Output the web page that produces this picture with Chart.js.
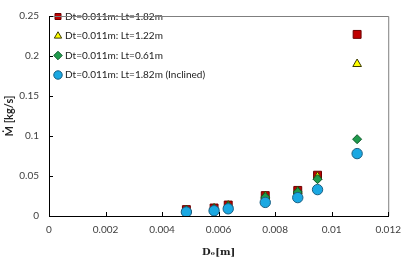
<!DOCTYPE html>
<html>
<head>
<meta charset="utf-8">
<script src="https://cdn.jsdelivr.net/npm/chart.js@4"></script>
<style>
  html, body { margin: 0; padding: 0; background: #fff; }
  #wrap { width: 409px; height: 258px; }
</style>
</head>
<body>
<div id="wrap"><canvas id="myChart"></canvas></div>
<script>
const seriesLabels = [
    'Dt=0.011m: Lt=1.82m',
    'Dt=0.011m: Lt=1.22m',
    'Dt=0.011m: Lt=0.61m',
    'Dt=0.011m: Lt=1.82m (Inclined)',
];
const diameters = [0.00486, 0.00584, 0.00634, 0.00765, 0.0088, 0.0095, 0.0109];
const flowLt182 = [0.008, 0.010, 0.0137, 0.0255, 0.032, 0.051, 0.227];
const flowLt122 = [0.0075, 0.0095, 0.013, 0.025, 0.031, 0.049, 0.190];
const flowLt061 = [0.007, 0.009, 0.012, 0.0236, 0.030, 0.046, 0.096];
const flowInclined = [0.005, 0.0066, 0.009, 0.017, 0.023, 0.033, 0.078];
const xTicks = [0, 0.002, 0.004, 0.006, 0.008, 0.01, 0.012];
const yTicks = [0, 0.05, 0.1, 0.15, 0.2, 0.25];

function pts(ys) {
    return diameters.map((d, i) => ({x: d, y: ys[i]}));
}

// nudge the legend box inside the plot area
const legendNudge = {
    id: 'legendNudge',
    afterLayout(chart) {
        const lg = chart.legend;
        if (lg) {
            lg.top += 2;
            lg.left -= 2.5;
        }
    }
};

// inward tick marks and the grey plot frame, Excel style
const frame = {
    id: 'frame',
    afterDatasetsDraw(chart) {
        const {ctx, chartArea: a, scales} = chart;
        ctx.save();
        ctx.strokeStyle = '#7f7f7f';
        ctx.lineWidth = 1;
        ctx.beginPath();
        ctx.moveTo(a.left, a.top + 0.5);
        ctx.lineTo(a.right + 0.5, a.top + 0.5);
        ctx.lineTo(a.right + 0.5, a.bottom);
        ctx.stroke();
        ctx.strokeStyle = '#000';
        ctx.beginPath();
        xTicks.forEach(v => {
            const px = Math.round(scales.x.getPixelForValue(v)) + 0.5;
            ctx.moveTo(px, a.bottom);
            ctx.lineTo(px, a.bottom - 4);
        });
        yTicks.forEach(v => {
            const py = Math.round(scales.y.getPixelForValue(v)) + 0.5;
            ctx.moveTo(a.left, py);
            ctx.lineTo(a.left + 4, py);
        });
        ctx.stroke();
        ctx.restore();
    }
};

let ctx = document.getElementById('myChart');

var myChart = new Chart(ctx,
    {
        type: 'scatter',
        data: {
            datasets: [{
                label: seriesLabels[0],
                data: pts(flowLt182),
                pointStyle: 'rect',
                pointRadius: 5.6,
                backgroundColor: '#c00000',
                borderColor: '#6b0000',
                borderWidth: 1,
                order: 4,
            }, {
                label: seriesLabels[1],
                data: pts(flowLt122),
                pointStyle: 'triangle',
                pointRadius: 5,
                backgroundColor: '#ffff00',
                borderColor: '#3a3a00',
                borderWidth: 1,
                order: 3,
            }, {
                label: seriesLabels[2],
                data: pts(flowLt061),
                pointStyle: 'rectRot',
                pointRadius: 4.5,
                backgroundColor: '#1f9a4c',
                borderColor: '#0d5a2a',
                borderWidth: 1,
                order: 2,
            }, {
                label: seriesLabels[3],
                data: pts(flowInclined),
                pointStyle: 'circle',
                pointRadius: 5.2,
                backgroundColor: '#1aa8e2',
                borderColor: '#1b5f82',
                borderWidth: 1,
                order: 1,
            }],
        },
        options: {
            responsive: true,
            maintainAspectRatio: false,
            animation: false,
            layout: {padding: {top: 5, right: 18, left: 0, bottom: 0}},
            plugins: {
                tooltip: {enabled: false},
                legend: {
                    position: 'chartArea',
                    align: 'start',
                    labels: {
                        usePointStyle: true,
                        boxWidth: 4,
                        boxHeight: 6,
                        padding: 9.5,
                        color: '#222',
                        font: {family: 'Lato', size: 10},
                        sort: (a, b) => a.datasetIndex - b.datasetIndex,
                    },
                },
            },
            scales: {
                x: {
                    type: 'linear',
                    min: 0,
                    max: 0.012,
                    afterBuildTicks: s => { s.ticks = xTicks.map(v => ({value: v})); },
                    afterFit: s => { s.height = 42; },
                    grid: {display: false, drawTicks: false},
                    border: {display: true, color: '#000', width: 1},
                    ticks: {
                        padding: 8,
                        color: '#404040',
                        font: {family: 'Lato', size: 10},
                        callback: v => String(+v.toFixed(3)),
                    },
                    title: {
                        display: true,
                        text: 'Dₒ[m]',
                        color: '#222',
                        padding: {top: 4, bottom: 0},
                        font: {family: 'DejaVu Serif', size: 10, weight: 'bold'},
                    },
                },
                y: {
                    min: 0,
                    max: 0.25,
                    afterBuildTicks: s => { s.ticks = yTicks.map(v => ({value: v})); },
                    afterFit: s => { s.width = 49; },
                    grid: {display: false, drawTicks: false},
                    border: {display: true, color: '#000', width: 1},
                    ticks: {
                        padding: 10,
                        color: '#404040',
                        font: {family: 'Lato', size: 10},
                        callback: v => String(+v.toFixed(2)),
                    },
                    title: {
                        display: true,
                        text: 'Ṁ [kg/s]',
                        color: '#222',
                        padding: {top: 3, bottom: 4},
                        font: {family: 'Lato', size: 11, weight: 'bold'},
                    },
                },
            },
        },
        plugins: [legendNudge, frame],
    }
);
</script>
</body>
</html>
